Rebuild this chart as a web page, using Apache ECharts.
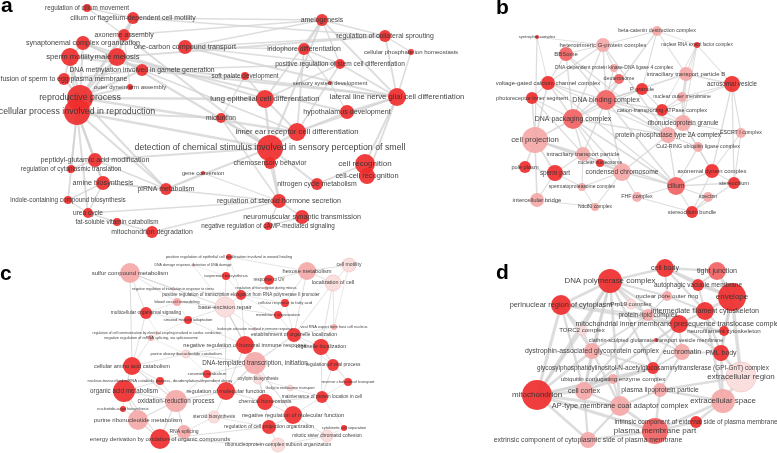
<!DOCTYPE html>
<html>
<head>
<meta charset="utf-8">
<script src="https://cdn.jsdelivr.net/npm/echarts@6/dist/echarts.min.js"></script>
<style>
  html, body { margin: 0; padding: 0; background: #fff; }
  #main { width: 777px; height: 453px; }
</style>
</head>
<body>
<div id="main"></div>
<script>
// ---- panel a : biological process terms ----
const aNames = ['regulation of cilium movement', 'cilium or flagellum-dependent cell motility', 'axoneme assembly',
  'synaptonemal complex organization', 'one-carbon compound transport', 'sperm motility', 'male meiosis',
  'DNA methylation involved in gamete generation', 'fusion of sperm to egg plasma membrane', 'outer dynein arm assembly',
  'reproductive process', 'cellular process involved in reproduction', 'peptidyl-glutamic acid modification',
  'regulation of cytoplasmic translation', 'amine biosynthesis', 'piRNA metabolism', 'indole-containing compound biosynthesis',
  'urea cycle', 'fat-soluble vitamin catabolism', 'mitochondrion degradation', 'amelogenesis', 'regulation of collateral sprouting',
  'cellular phosphate ion homeostasis', 'iridophore differentiation', 'positive regulation of stem cell differentiation',
  'soft palate development', 'sensory system development', 'lung epithelial cell differentiation',
  'lateral line nerve glial cell differentiation', 'hypothalamus development', 'micturition',
  'inner ear receptor cell differentiation', 'detection of chemical stimulus involved in sensory perception of smell',
  'chemosensory behavior', 'gene conversion', 'cell recognition', 'cell-cell recognition', 'nitrogen cycle metabolism',
  'regulation of steroid hormone secretion', 'neuromuscular synaptic transmission', 'negative regulation of cAMP-mediated signaling'];
const aX = [87, 133, 124, 83, 185, 70, 117, 142, 64, 130, 80, 77, 95, 71, 103, 166, 68, 88, 117, 152,
  322, 385, 411, 304, 340, 245, 330, 265, 397, 347, 221, 297, 270, 270, 203, 365, 367, 317, 279, 302, 268];
const aY = [8, 18, 35, 43, 47, 57, 57, 70, 79, 87, 98, 112, 160, 169, 183, 189, 200, 213, 222, 232,
  20, 36, 52, 49, 64, 76, 83, 99, 97, 112, 118, 132, 148, 163, 173, 164, 176, 184, 201, 217, 226];
const aSize = [8, 12, 12, 14, 14, 18, 18, 12, 12, 6, 26, 26, 14, 8, 14, 12, 8, 10, 8, 12,
  12, 12, 6, 12, 10, 8, 4, 18, 18, 14, 10, 18, 26, 12, 4, 20, 16, 12, 14, 14, 8];
const aLevel = aNames.map(() => 3);
const aLinks = [[10, 11], [10, 5], [10, 6], [10, 3], [10, 8], [10, 2], [10, 1], [10, 7], [10, 9], [11, 5], [11, 6], [11, 12],
  [11, 14], [11, 17], [11, 13], [11, 16], [10, 15], [11, 15], [5, 6], [5, 3], [6, 3], [6, 2], [1, 2], [0, 1], [0, 2], [1, 6],
  [2, 9], [6, 7], [7, 8], [5, 8], [3, 7], [4, 20], [4, 21], [4, 28], [4, 24], [4, 23], [1, 20], [1, 21], [2, 20], [6, 21],
  [7, 28], [7, 24], [5, 28], [3, 27], [6, 29], [7, 31], [2, 32], [6, 32], [10, 27], [10, 31], [11, 32], [11, 30],
  [20, 21], [20, 23], [20, 24], [20, 28], [21, 22], [21, 28], [22, 28], [23, 24], [23, 26], [24, 28], [24, 27], [26, 29],
  [27, 31], [27, 32], [27, 25], [25, 30], [28, 29], [28, 35], [29, 31], [31, 32], [32, 33], [32, 37], [32, 38], [33, 38],
  [38, 39], [38, 40], [39, 40], [35, 36], [36, 28], [30, 32], [30, 38], [34, 38], [34, 15], [15, 12], [15, 14], [15, 32],
  [14, 17], [17, 18], [18, 19], [14, 16], [13, 12], [12, 14], [16, 17], [17, 38], [19, 38], [12, 32], [14, 38], [37, 35],
  [31, 24], [23, 31], [27, 20], [32, 20], [28, 31]];

// ---- panel b : cellular component terms ----
const bNames = ['syntrophin complex', 'heterotrimeric G-protein complex', 'BBSome', 'beta-catenin destruction complex',
  'nuclear RNA export factor complex', 'DNA-dependent protein kinase-DNA ligase 4 complex', 'deuterosome',
  'intraciliary transport particle B', 'acrosomal vesicle', 'voltage-gated calcium channel complex', 'P granule',
  'nuclear outer membrane', 'photoreceptor inner segment', 'DNA binding complex', 'cation-transporting ATPase complex',
  'DNA packaging complex', 'ribonucleoprotein granule', 'protein phosphatase type 2A complex', 'ESCRT I complex',
  'cell projection', 'Cul2-RING ubiquitin ligase complex', 'intraciliary transport particle', 'nuclear nucleosome',
  'condensed chromosome', 'axonemal dynein complex', 'cilium', 'stereocilium', 'pole plasm', 'sperm part',
  'spermatoproteasome complex', 'FHF complex', 'spectrin', 'intercellular bridge', 'Ndc80 complex', 'stereocilium bundle'];
const bX = [537, 603, 566, 657, 697, 614, 619, 686, 732, 548, 642, 682, 532, 606, 662, 573, 683, 668, 741,
  535, 698, 583, 600, 622, 712, 676, 734, 525, 555, 582, 637, 708, 537, 595, 692];
const bY = [37, 45, 54, 31, 45, 68, 79, 74, 84, 83, 89, 97, 98, 100, 110, 119, 123, 135, 133,
  140, 147, 154, 163, 172, 171, 186, 183, 167, 173, 187, 197, 197, 200, 207, 212];
const bSize = [4, 14, 14, 10, 6, 8, 10, 14, 16, 14, 12, 10, 12, 20, 12, 20, 16, 16, 10,
  26, 10, 14, 8, 18, 14, 18, 12, 12, 16, 8, 10, 10, 14, 8, 12];
const bLevel = [3, 1, 2, 1, 3, 1, 2, 1, 3, 3, 3, 1, 3, 2, 3, 2, 1, 1, 1,
  1, 1, 1, 3, 1, 3, 2, 3, 3, 3, 1, 1, 1, 1, 1, 3];
const bLinks = [[0, 9], [0, 1], [0, 19], [1, 2], [1, 3], [1, 13], [1, 5], [1, 9], [1, 15], [2, 9], [2, 13], [2, 15], [3, 4],
  [3, 7], [3, 13], [3, 10], [4, 7], [4, 8], [4, 11], [4, 14], [4, 16], [5, 13], [5, 6], [6, 13], [6, 15], [7, 8], [7, 11],
  [7, 13], [7, 16], [8, 11], [8, 18], [8, 24], [8, 26], [8, 14], [9, 13], [9, 15], [9, 12], [9, 19], [10, 13], [10, 14],
  [10, 15], [11, 14], [11, 16], [12, 15], [12, 19], [13, 15], [13, 14], [13, 16], [13, 17], [13, 23], [13, 21], [14, 16],
  [14, 17], [15, 19], [15, 21], [15, 23], [15, 22], [15, 17], [16, 17], [16, 18], [16, 20], [16, 24], [17, 20], [17, 23],
  [17, 25], [17, 18], [18, 24], [18, 26], [19, 21], [19, 27], [19, 28], [19, 23], [19, 32], [20, 24], [20, 25], [21, 22],
  [21, 23], [21, 28], [21, 29], [22, 23], [23, 25], [23, 29], [23, 30], [23, 33], [24, 25], [24, 26], [24, 34], [25, 26],
  [25, 31], [25, 34], [25, 30], [26, 34], [27, 28], [28, 32], [28, 29], [29, 33], [30, 34], [31, 34], [32, 33], [15, 25],
  [13, 25], [19, 25], [9, 17], [12, 21], [2, 17], [1, 17], [9, 25]];

// ---- panel c : biological process terms ----
const cNames = ['positive regulation of epithelial cell proliferation involved in wound healing',
  'DNA damage response, detection of DNA damage', 'sulfur compound metabolism', 'isoprenoid biosynthesis', 'response to UV',
  'hexose metabolism', 'cell motility', 'localization of cell', 'negative regulation of translation in response to stress',
  'regulation of transcription during mitosis', 'positive regulation of transcription elongation from RNA polymerase II promoter',
  'blood vessel remodeling', 'cellular response to fatty acid', 'base-excision repair', 'multicellular organismal signaling',
  'striated muscle adaptation', 'membrane organization',
  'regulation of cell communication by electrical coupling involved in cardiac conduction',
  'negative regulation of mRNA splicing, via spliceosome', 'leukocyte activation involved in immune response',
  'viral RNA export from host cell nucleus', 'establishment of organelle localization',
  'negative regulation of humoral immune response', 'organelle localization', 'purine deoxyribonucleotide catabolism',
  'cellular amino acid catabolism', 'DNA-templated transcription, initiation', 'regulation of viral process',
  'ceramide catabolism', 'nuclear-transcribed mRNA catabolic process, deadenylation-dependent decay',
  'oxylipin biosynthesis', 'organic acid metabolism', 'oxidation-reduction process', 'regulation of molecular function',
  'Golgi to endosome transport', 'reverse cholesterol transport', 'maintenance of protein location in cell',
  'chemical homeostasis', 'nucleotide-sugar biosynthesis', 'steroid biosynthesis', 'negative regulation of molecular function',
  'purine ribonucleotide metabolism', 'regulation of cell projection organization', 'cytokinetic cell separation',
  'RNA splicing', 'energy derivation by oxidation of organic compounds', 'mitotic sister chromatid cohesion',
  'ribonucleoprotein complex subunit organization'];
const cX = [229, 193, 130, 226, 269, 307, 349, 333, 173, 266, 241, 177, 285, 225, 146, 188, 278, 157, 151, 255,
  334, 294, 245, 321, 186, 132, 255, 333, 207, 160, 258, 124, 176, 226, 290, 348, 322, 265, 123, 214,
  293, 138, 269, 344, 184, 160, 327, 278];
const cY = [257, 265, 273, 276, 280, 271, 265, 283, 289, 288, 295, 302, 303, 307, 313, 320, 315, 333, 338, 329,
  327, 335, 345, 347, 354, 366, 363, 365, 374, 381, 379, 391, 401, 391, 388, 382, 397, 402, 409, 417,
  415, 420, 427, 428, 432, 439, 436, 445];
const cSize = [6, 3, 20, 8, 10, 18, 14, 16, 3, 3, 10, 8, 8, 20, 12, 8, 8, 3, 6, 3,
  6, 14, 18, 16, 8, 18, 22, 12, 8, 8, 10, 22, 22, 18, 6, 8, 12, 16, 6, 12,
  18, 20, 14, 6, 14, 20, 12, 14];
const cLevel = [3, 0, 1, 3, 3, 1, 0, 0, 0, 0, 3, 1, 3, 0, 3, 3, 3, 0, 1, 0,
  1, 3, 3, 3, 0, 3, 1, 3, 3, 3, 0, 3, 1, 3, 0, 3, 3, 3, 3, 0,
  3, 1, 3, 3, 1, 3, 0, 0];
const cLinks = [[0, 3], [0, 10], [0, 5], [1, 3], [1, 13], [2, 8], [2, 14], [2, 11], [2, 13], [3, 10], [3, 13], [4, 10], [4, 5],
  [4, 12], [5, 6], [5, 7], [5, 12], [5, 21], [6, 7], [6, 20], [7, 20], [7, 21], [7, 23], [8, 11], [8, 10], [9, 12], [10, 13],
  [10, 12], [10, 16], [10, 22], [11, 13], [11, 14], [11, 15], [12, 16], [12, 21], [13, 15], [13, 16], [13, 19], [13, 22],
  [13, 26], [14, 15], [14, 17], [14, 25], [15, 18], [15, 22], [16, 21], [17, 18], [18, 24], [18, 25], [19, 21], [20, 21],
  [20, 23], [21, 23], [21, 26], [21, 27], [22, 26], [22, 24], [22, 33], [23, 27], [23, 36], [23, 35], [24, 25], [24, 28],
  [24, 26], [25, 31], [25, 29], [25, 32], [26, 33], [26, 30], [26, 37], [26, 28], [27, 36], [27, 35], [28, 33], [28, 32],
  [29, 31], [29, 32], [30, 37], [30, 34], [31, 32], [31, 41], [31, 38], [32, 33], [32, 41], [32, 44], [32, 45], [33, 37],
  [33, 39], [34, 36], [35, 36], [36, 37], [36, 40], [36, 43], [37, 40], [37, 42], [39, 42], [39, 44], [40, 42], [40, 46],
  [41, 45], [41, 38], [42, 47], [42, 45], [44, 45], [45, 47], [46, 47], [43, 46], [26, 40], [31, 45], [2, 25], [13, 33]];

// ---- panel d : cellular component terms ----
const dNames = ['DNA polymerase complex', 'cell body', 'tight junction', 'autophagic vacuole membrane', 'nuclear pore outer ring',
  'envelope', 'perinuclear region of cytoplasm', 'Prp19 complex', 'intermediate filament cytoskeleton', 'protein-lipid complex',
  'mitochondrial inner membrane presequence translocase complex', 'TORC2 complex', 'neurofilament cytoskeleton',
  'clathrin-sculpted glutamate transport vesicle membrane', 'dystrophin-associated glycoprotein complex', 'euchromatin',
  'PML body', 'glycosylphosphatidylinositol-N-acetylglucosaminyltransferase (GPI-GnT) complex', 'extracellular region',
  'ubiquitin conjugating enzyme complex', 'mitochondrion', 'cell cortex', 'plasma lipoprotein particle', 'extracellular space',
  'AP-type membrane coat adaptor complex', 'intrinsic component of external side of plasma membrane', 'plasma membrane part',
  'extrinsic component of cytoplasmic side of plasma membrane'];
const dX = [610, 665, 717, 698, 667, 732, 561, 631, 705, 648, 679, 582, 724, 656, 592, 682, 721, 653, 741,
  613, 537, 584, 660, 723, 620, 696, 655, 588];
const dY = [281, 268, 271, 285, 296, 297, 305, 304, 311, 315, 324, 330, 331, 340, 351, 352, 353, 368, 377,
  379, 395, 391, 390, 401, 406, 422, 431, 440];
const dSize = [24, 18, 18, 12, 10, 28, 20, 10, 18, 12, 18, 10, 10, 4, 16, 16, 16, 12, 30,
  10, 30, 18, 14, 24, 20, 12, 26, 16];
const dLevel = [3, 3, 2, 3, 1, 3, 3, 0, 3, 1, 3, 0, 3, 3, 1, 1, 3, 3, 0,
  1, 3, 1, 1, 1, 1, 3, 2, 1];
const dLinks = [[0, 1], [0, 6], [0, 7], [0, 9], [0, 4], [0, 10], [0, 11], [0, 14], [0, 20], [0, 21], [0, 24], [1, 3], [1, 4],
  [1, 8], [1, 2], [1, 5], [2, 5], [2, 3], [3, 5], [3, 8], [4, 9], [4, 8], [5, 8], [5, 12], [5, 16], [5, 18], [6, 11], [6, 14],
  [6, 20], [6, 7], [6, 9], [6, 10], [7, 9], [8, 10], [8, 12], [8, 16], [9, 10], [9, 14], [9, 15], [10, 12], [10, 15], [10, 16],
  [10, 17], [10, 13], [11, 14], [11, 20], [12, 16], [13, 15], [14, 20], [14, 21], [14, 17], [15, 16], [15, 17], [15, 22],
  [16, 18], [16, 23], [17, 19], [17, 22], [17, 21], [18, 23], [18, 22], [19, 20], [19, 21], [19, 24], [20, 21], [20, 24],
  [20, 27], [20, 26], [20, 17], [21, 24], [21, 27], [22, 26], [22, 23], [22, 24], [23, 25], [23, 26], [24, 26], [24, 27],
  [25, 26], [26, 27], [6, 21], [0, 17], [14, 24], [9, 21], [10, 21], [8, 23]];

const FONT = '"Liberation Sans", Arial, sans-serif';
const levelColors = ['#fadcdc', '#f5a8a8', '#f26262', '#ef2d2d'];

function buildPanel(names, xs, ys, sizes, levels, links, style) {
  const nodes = names.map(function (n, i) {
    return {
      name: n,
      value: [xs[i], ys[i]],
      symbolSize: sizes[i],
      itemStyle: {
        color: levelColors[levels[i]],
        borderColor: levels[i] === 0 ? '#f2b8b8' : levelColors[levels[i]],
        borderWidth: levels[i] === 0 ? 0.6 : 0
      },
      label: { fontSize: Math.min(style.fontMax, style.fontBase + style.fontK * sizes[i]) }
    };
  });
  const edges = links.map(function (l) {
    return {
      source: l[0],
      target: l[1],
      lineStyle: { width: style.lineBase + style.lineK * (sizes[l[0]] + sizes[l[1]]) }
    };
  });
  return {
    type: 'graph',
    coordinateSystem: 'cartesian2d',
    xAxisIndex: 0,
    yAxisIndex: 0,
    symbol: 'circle',
    silent: true,
    data: nodes,
    links: edges,
    itemStyle: { opacity: 0.92 },
    lineStyle: { color: '#d2d2d2', opacity: 0.75, curveness: 0 },
    label: {
      show: true,
      position: 'inside',
      color: '#333',
      fontFamily: FONT
    },
    emphasis: { disabled: true }
  };
}

const myChart = echarts.init(document.getElementById('main'));
const option = {
  animation: false,
  backgroundColor: '#fff',
  grid: { left: 0, right: 0, top: 0, bottom: 0 },
  xAxis: { type: 'value', min: 0, max: 777, show: false },
  yAxis: { type: 'value', min: 0, max: 453, inverse: true, show: false },
  graphic: [
    { type: 'text', left: 1, top: -4, style: { text: 'a', font: 'bold 21px ' + FONT, fill: '#000' } },
    { type: 'text', left: 496, top: -2, style: { text: 'b', font: 'bold 21px ' + FONT, fill: '#000' } },
    { type: 'text', left: 0, top: 264, style: { text: 'c', font: 'bold 21px ' + FONT, fill: '#000' } },
    { type: 'text', left: 496, top: 263, style: { text: 'd', font: 'bold 21px ' + FONT, fill: '#000' } }
  ],
  series: [
    buildPanel(aNames, aX, aY, aSize, aLevel, aLinks, { fontBase: 5.2, fontK: 0.14, fontMax: 8.8, lineBase: 0.6, lineK: 0.04 }),
    buildPanel(bNames, bX, bY, bSize, bLevel, bLinks, { fontBase: 3.6, fontK: 0.17, fontMax: 7.8, lineBase: 0.4, lineK: 0.03 }),
    buildPanel(cNames, cX, cY, cSize, cLevel, cLinks, { fontBase: 3.0, fontK: 0.15, fontMax: 6.5, lineBase: 0.3, lineK: 0.02 }),
    buildPanel(dNames, dX, dY, dSize, dLevel, dLinks, { fontBase: 5.0, fontK: 0.12, fontMax: 8, lineBase: 0.5, lineK: 0.05 })
  ]
};
myChart.setOption(option);
window.onresize = function () {
  myChart.resize();
};
</script>
</body>
</html>
